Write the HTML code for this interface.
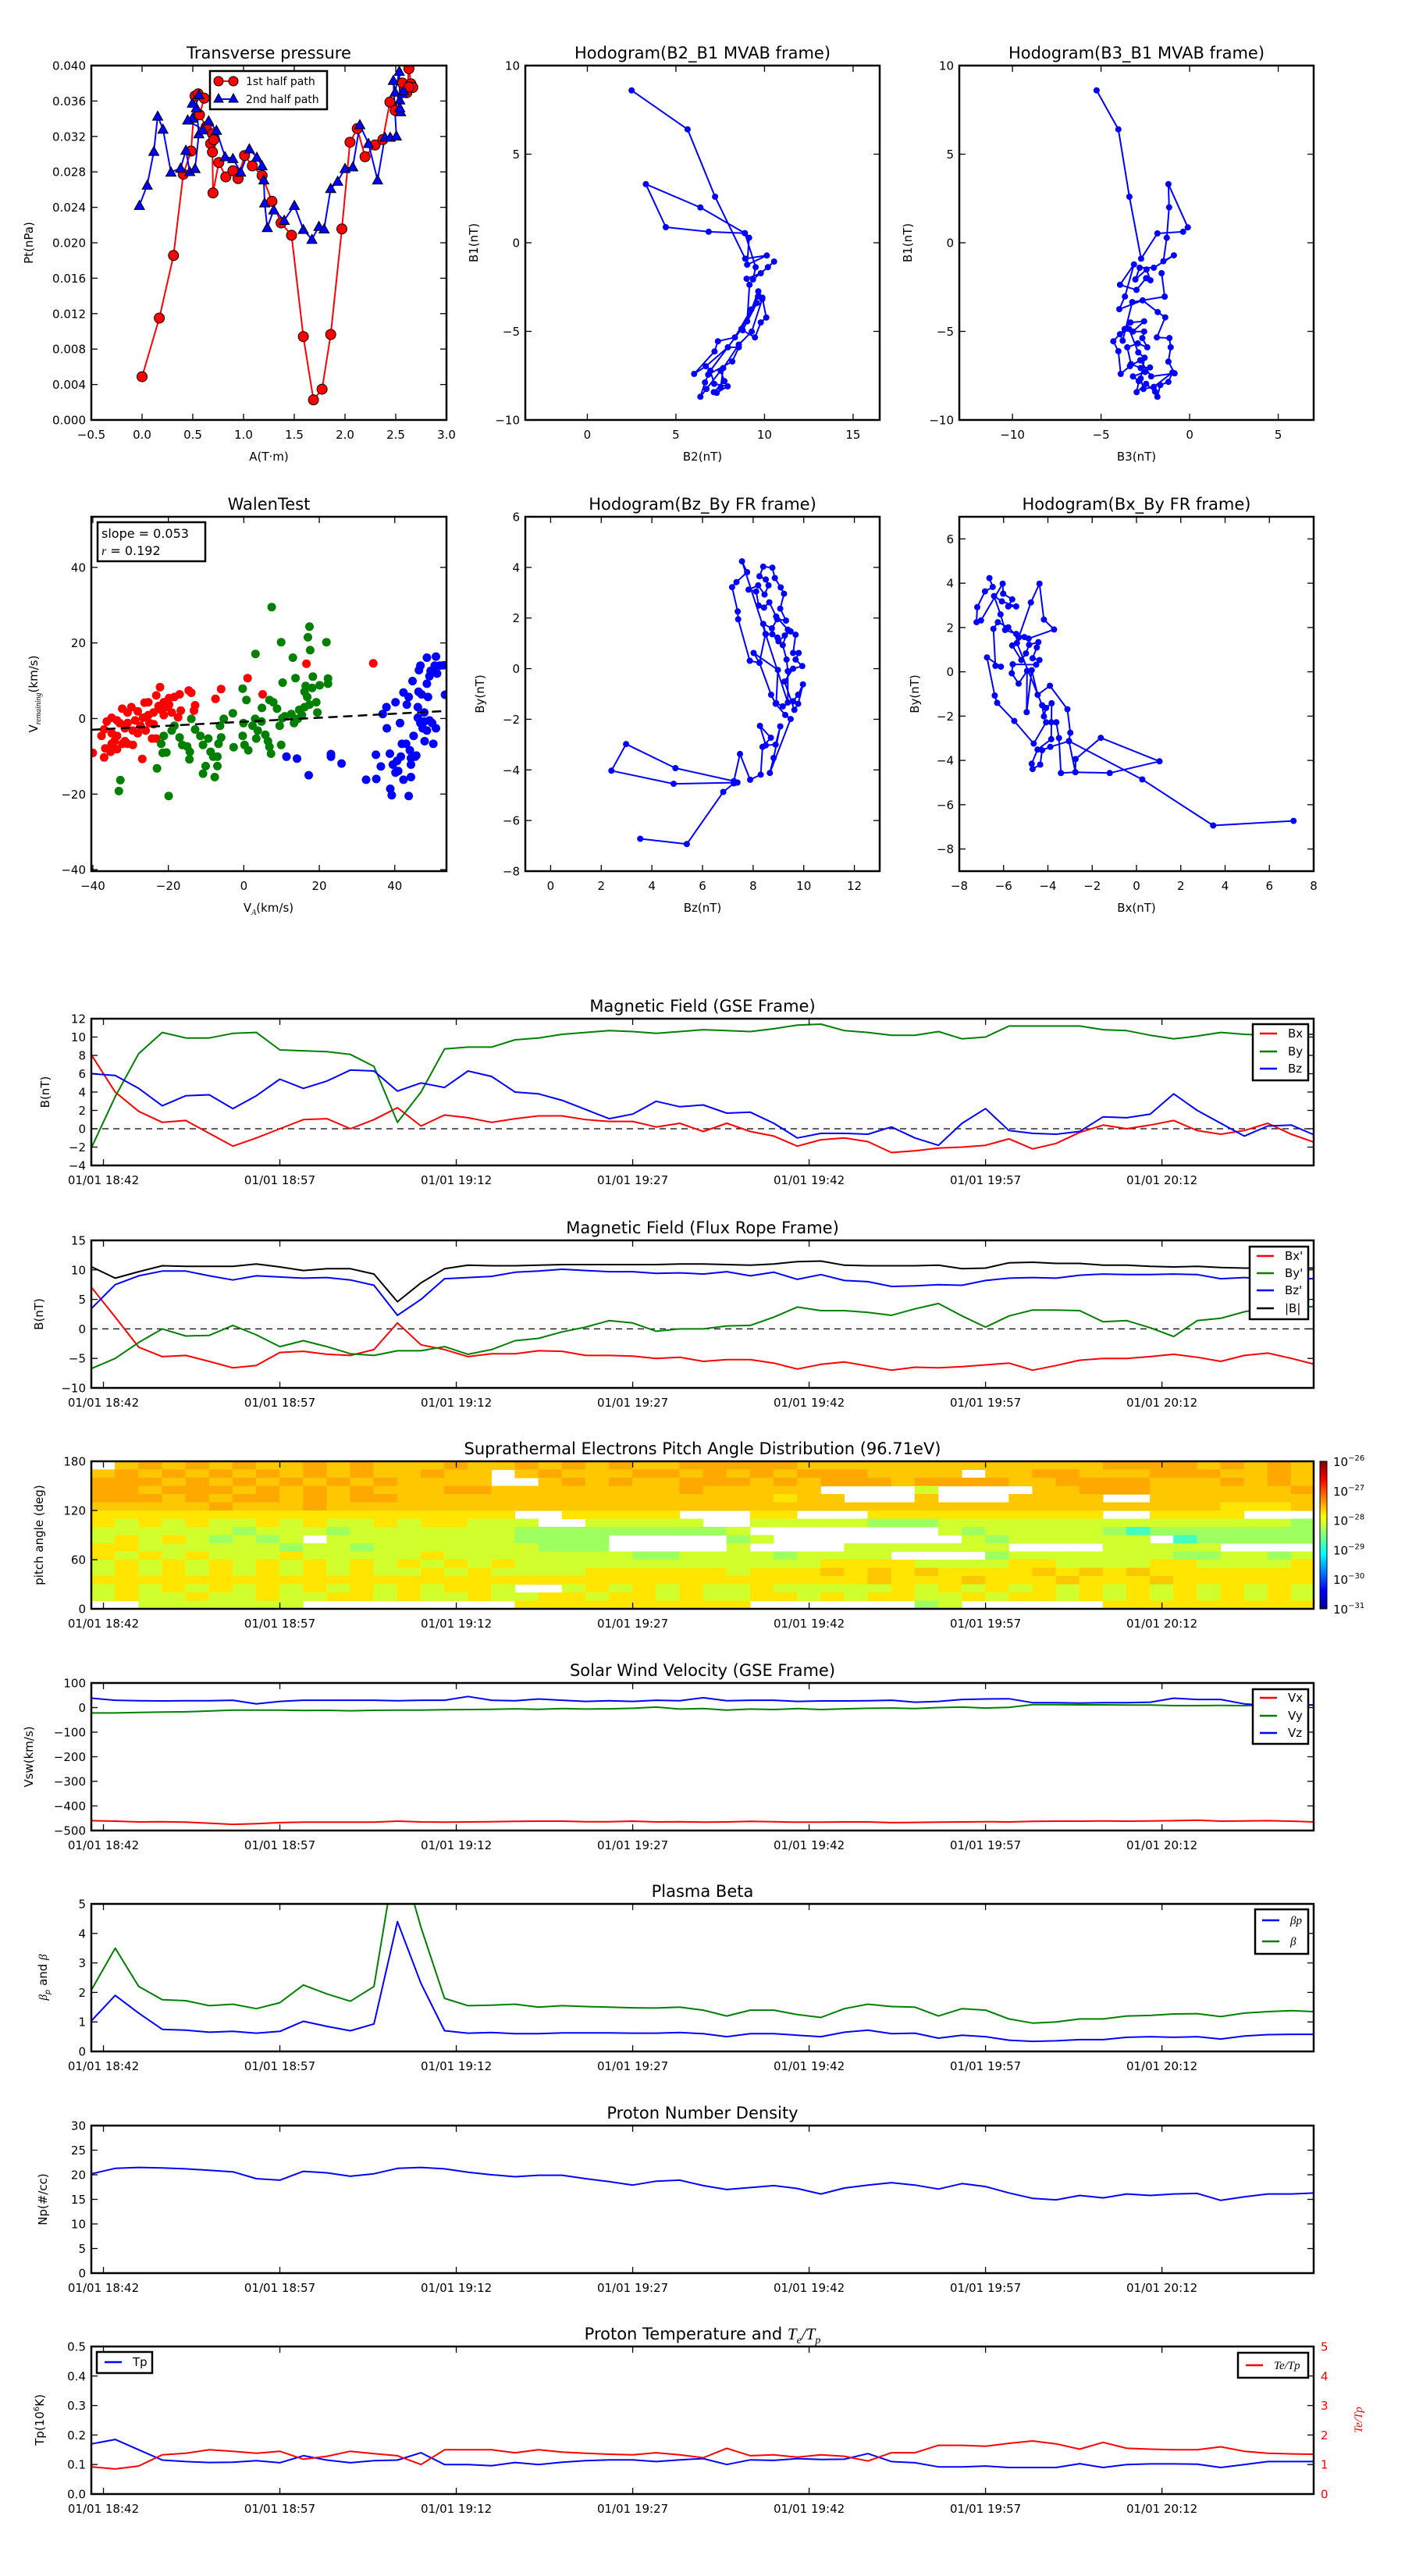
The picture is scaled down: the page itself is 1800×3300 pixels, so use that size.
<!DOCTYPE html>
<html><head><meta charset="utf-8"><title>Flux rope analysis</title>
<style>
html,body{margin:0;padding:0;background:#fff;}
svg{display:block;font-family:"DejaVu Sans","Liberation Sans",sans-serif;}
</style></head>
<body>
<svg id="fig" xmlns="http://www.w3.org/2000/svg" width="1800" height="3300" viewBox="0 0 1800 3300">
<defs>
<linearGradient id="jetgrad" x1="0" y1="1" x2="0" y2="0">
<stop offset="0" stop-color="#00008f"/><stop offset="0.125" stop-color="#0000ff"/><stop offset="0.375" stop-color="#00ffff"/><stop offset="0.625" stop-color="#ffff00"/><stop offset="0.875" stop-color="#ff0000"/><stop offset="1" stop-color="#800000"/>
</linearGradient>
</defs>
</svg>
<script>
// ---------- top-row data ----------
const presRedA=[0,0.17,0.31,0.406,0.483,0.522,0.553,0.612,0.566,0.632,0.694,0.676,0.707,0.694,0.699,0.756,0.825,0.895,0.946,1.01,1.087,1.183,1.28,1.37,1.473,1.589,1.689,1.774,1.859,1.969,2.049,2.121,2.198,2.296,2.373,2.442,2.494,2.566,2.609,2.63,2.65,2.668,2.63];
const presRedP=[0.00488,0.0115,0.01856,0.02774,0.03035,0.03656,0.0368,0.03632,0.03444,0.03309,0.0323,0.03118,0.03162,0.03024,0.02562,0.02906,0.02744,0.02812,0.02724,0.02985,0.02868,0.02759,0.02468,0.02224,0.02085,0.00941,0.00226,0.00347,0.00965,0.02156,0.03135,0.03288,0.02971,0.03103,0.03165,0.03588,0.03494,0.03803,0.03694,0.03965,0.03794,0.03753,0.03759];
const presBlueA=[-0.026,0.051,0.116,0.154,0.206,0.285,0.38,0.432,0.47,0.522,0.56,0.535,0.496,0.56,0.496,0.45,0.6,0.656,0.733,0.818,0.895,0.972,1.057,1.131,1.183,1.2,1.208,1.234,1.298,1.401,1.501,1.589,1.674,1.743,1.794,1.859,1.928,2.0,2.077,2.146,2.231,2.321,2.393,2.445,2.506,2.476,2.494,2.535,2.54,2.548,2.54,2.566,2.578];
const presBlueP=[0.02421,0.0265,0.03032,0.03429,0.03282,0.02797,0.02841,0.03044,0.02803,0.02838,0.0323,0.03524,0.03576,0.03671,0.03406,0.03385,0.03274,0.03376,0.03268,0.02971,0.0295,0.02797,0.03059,0.02965,0.02868,0.02709,0.0245,0.02171,0.02371,0.02253,0.02421,0.0215,0.02038,0.02185,0.02156,0.02612,0.02694,0.02838,0.02856,0.03332,0.03121,0.02709,0.03191,0.03191,0.03206,0.03832,0.037,0.03935,0.03612,0.03479,0.03524,0.03685,0.03715];
const presXTicks=[-0.5,0,0.5,1,1.5,2,2.5,3];
const presXLabels=["−0.5","0.0","0.5","1.0","1.5","2.0","2.5","3.0"];
const presYTicks=[0,0.004,0.008,0.012,0.016,0.02,0.024,0.028,0.032,0.036,0.04];
const presYLabels=["0.000","0.004","0.008","0.012","0.016","0.020","0.024","0.028","0.032","0.036","0.040"];

const h2x=[2.5,5.66,7.21,8.91,10.13,9.02,9.13,8.89,6.38,3.3,4.43,6.85,8.89,9.5,9.35,10.19,10.54,9.79,8.99,9.15,9.02,9.65,9.88,10.1,9.79,9.46,8.77,9.57,9.25,8.33,7.37,7.18,6.03,6.69,7.93,8.55,8.18,6.82,6.64,6.38,6.72,7.52,7.74,7.14,7.3,7.92,7.16,6.94,8.7,9.63,9.87,9.28,8.55,7.67,7.52];
const h2y=[8.6,6.4,2.6,-0.9,-0.72,-1.24,0.28,0.54,1.99,3.31,0.88,0.62,0.54,-1.38,-2.07,-1.38,-1.06,-1.72,-2.03,-2.37,-4.43,-2.74,-3.1,-4.22,-4.5,-5.34,-4.94,-3.4,-3.76,-5.34,-5.56,-6.13,-7.4,-6.97,-5.9,-5.9,-6.7,-7.44,-7.88,-8.69,-8.25,-7.22,-7.81,-8.43,-8.47,-8.1,-7.96,-7.22,-4.87,-3.03,-3.18,-5.01,-5.75,-7.07,-8.18];
const h3x=[-5.25,-4.02,-3.4,-2.74,-1.82,-0.37,-0.1,-1.2,-1.16,-1.29,-1.48,-0.89,-2.02,-2.82,-3.06,-2.43,-2.21,-2.46,-3.0,-3.93,-3.14,-3.65,-3.97,-2.65,-1.8,-1.38,-1.85,-1.14,-1.07,-1.2,-0.85,-2.17,-2.79,-3.37,-3.89,-4.02,-4.31,-3.67,-3.34,-2.57,-3.2,-2.57,-2.67,-2.39,-2.93,-3.52,-3.31,-2.76,-2.24,-2.51,-3.2,-2.87,-2.99,-2.46,-1.95,-1.82,-1.66,-1.2,-0.97,-2.02,-2.61,-2.76,-2.54,-2.9,-3.42,-3.93,-3.78,-3.24,-1.41,-1.58];
const h3y=[8.6,6.4,2.6,-0.9,0.53,0.62,0.87,3.31,2.0,0.28,-1.04,-0.71,-1.41,-1.41,-2.07,-1.51,-2.12,-2.0,-2.66,-2.37,-1.22,-3.03,-3.75,-3.25,-3.91,-4.21,-5.34,-5.38,-5.9,-6.71,-7.37,-7.54,-6.63,-6.96,-7.4,-6.12,-5.56,-4.87,-4.5,-4.43,-5.01,-5.01,-5.38,-5.9,-5.68,-5.9,-6.85,-7.07,-7.04,-7.29,-7.54,-7.81,-8.43,-7.96,-8.4,-8.69,-8.03,-7.85,-7.32,-8.13,-8.25,-7.66,-6.49,-6.19,-4.87,-5.16,-5.53,-3.35,-3.04,-1.72];

// ---------- second-row data ----------
const walenRedX=[-40,-37,-36.7,-35.3,-35,-33.6,-32.2,-30.8,-29.4,-26.9,-37,-36.3,-35,-33.6,-32.2,-30.8,-29.8,-28.1,-26.7,-25.3,-23.9,-22.6,-21.2,-19.8,-18.4,-17,-14.6,-13.9,-26.3,-23.2,-22.2,-25,-23.9,-24.3,-28.1,-29.4,-31.5,-33.6,-35,-32.9,-30.8,-28.8,-27.4,-26,-21.9,-20.5,-19.1,-17.4,-16.7,-13.2,-12.9,-20.5,-6,-7.5,1,5,16.6,34.3,-23.2,-25.3,-21.2,-19.8,-34.3,-31.5,-37.7];
const walenRedY=[-9.1,-10.3,-7.9,-8.8,-6.7,-8.1,-6.7,-6.7,-7,-10.7,-2.9,-0.8,0.2,-0.5,2.6,1.6,3,1.9,0.2,0.9,1.6,3.3,4.3,5.4,5.7,6.4,7.4,6.8,4.2,6.1,8.3,-1.2,-1.5,-5.3,-3.9,-3.2,-2.6,-4.6,-3.9,-1.2,-1.2,-0.5,-1.9,-3.2,2.3,3,1.6,0.3,2.1,2.1,3.5,4.3,7.8,5.2,10.7,6.4,14.5,14.6,-5.3,4.3,0.9,3.7,-6,-6,-4.6];
const walenGreenX=[-23,-32.7,-33.1,-19.9,-21.9,-21.5,-20.5,-21.2,-19.1,-18.4,-17,-16.3,-15,-14.3,-14.4,-13.9,-12.9,-11.5,-10.8,-10.8,-10.1,-9.4,-8.8,-8.1,-7.7,-7,-7,-6.7,-6,-6.3,-5.3,-2.9,-2.7,-0.3,0.7,-0.1,-0.3,0.2,1.2,2.3,3,3.3,3.7,4.7,4.8,5.7,6.4,6.8,7.2,6.8,7.8,8.8,9.5,9.9,10.2,10.9,12.6,13.3,10.3,13,13.7,9.9,7.4,3.1,17.4,17,17.6,21.9,18.3,16.4,18.1,20.1,22.3,22.3,16.1,16.8,17.4,19.2,19.5,16.1,14.7,14.3,15.4];
const walenGreenY=[-13.2,-16.3,-19.2,-20.5,-6.7,-9.1,-9,-4.6,-3.2,-1.9,-5,-7,-7.4,-8.8,-10.8,-0.1,-2.9,-4.6,-7,-14.6,-12.6,-5.3,-8.8,-10.1,-15.5,-12.6,-10.1,-6.7,-5,-1.9,-0.1,1.4,-7.6,7.9,4.9,-1.2,-4.6,-7,-8.4,-1.9,-0.1,-5.3,-3.2,-0.8,2.8,-4.3,-6,-7.5,-9.3,4.9,4.3,2.6,-1.9,-7,0.1,0.6,1.2,-1.2,9.5,16.1,10.7,20.2,29.5,17.1,24.3,21.5,18.1,20.2,11.1,8.6,8.1,8.8,10.6,9.2,7.1,5.7,3.7,4.3,1.6,3,2.3,-0.1,0.9];
const walenBlueX=[11.3,14.1,17.2,23.1,23.1,25.9,32.4,35,35.1,36.3,37.9,36.8,37.8,38.7,38.8,39.2,39.5,40.6,40.9,41.4,41.9,42.3,42.3,43.2,43.7,43.7,44,44.3,44.3,44.7,45,45.4,46.1,46.1,46.3,46.4,46.8,47.1,47.4,47.8,47.9,48.5,48.5,48.8,49.2,49.5,49.9,50.2,50.6,50.9,50.9,51.2,51.9,53,53.3,46.8,48.5,49.2,47.8,40.2,43,44.3,41.6,40.2,45.7];
const walenBlueY=[-10.1,-10.6,-15,-9.4,-10.1,-11.9,-16.2,-9.6,-16,-12.7,-2.6,1.2,3,-9.3,-18.6,-20.3,-12.2,-11.2,-13.9,-1.2,-6.7,-16.2,6.9,3.7,5.7,-20.5,-8.4,-15.5,-12.2,9.9,-4.6,-10.1,3,0.2,7.1,12.8,14,6.4,-2.6,1.6,-6,9.2,16.1,5.7,11.2,12.6,-1.2,-6.7,14,16.4,-2.6,11.9,14,14.1,6.3,-1.2,-3.2,-0.5,-0.8,4.3,-6.7,-10.5,-10.1,-14.3,-9.8];
const walenSlope=0.053, walenIntercept=-0.85;

const h4x=[3.54,5.38,6.82,7.24,7.38,4.86,2.4,2.98,4.93,7.24,7.48,7.88,8.3,8.37,8.7,8.27,8.5,8.89,9.07,8.81,8.66,9.48,9.27,8.89,8.71,8.25,8.02,8.98,8.91,9.17,9.58,9.78,9.97,9.78,9.63,9.24,9.58,9.94,9.68,9.8,9.58,9.68,9.48,9.25,9.0,8.96,8.76,8.5,8.4,8.74,8.95,9.3,9.07,9.22,9.09,8.86,8.76,8.4,8.25,8.5,8.61,8.45,8.2,7.82,8.12,8.22,8.43,8.64,8.91,9.37,9.17,9.32,9.37,9.37,7.56,7.76,7.34,7.17,7.39,7.41,7.87,8.25,8.49];
const h4y=[-6.72,-6.93,-4.87,-4.53,-4.5,-4.55,-4.03,-2.98,-3.93,-4.44,-3.37,-4.39,-4.19,-3.09,-2.73,-2.26,-3.03,-3.0,-2.28,-3.53,-4.12,-1.99,-1.83,-1.39,-1.03,0.23,0.62,-0.05,-1.36,-1.49,-1.29,-1.03,-0.62,-1.39,-1.63,-0.51,0,0.1,0.36,0.62,0.62,1.34,1.47,1.31,1.08,1.23,1.36,1.36,1.77,1.59,1.95,1.9,2.37,2.96,3.21,3.58,3.99,4.03,3.65,3.52,3.29,2.93,3.29,3.12,3.05,2.49,2.41,2.62,2.06,1.54,0.93,0.36,-0.1,-1.34,4.24,3.81,3.42,3.22,2.26,1.95,0.31,0.23,1.37];
const h5x=[-6.64,-6.49,-6.84,-7.19,-7.22,-7.02,-6.04,-6.02,-5.61,-5.79,-5.43,-6.08,-6.43,-6.14,-5.93,-5.43,-5.06,-4.87,-3.72,-4.18,-4.38,-4.77,-5.32,-5.79,-6.26,-6.46,-6.37,-6.12,-6.75,-6.4,-6.29,-5.52,-4.64,-4.08,-3.85,-3.62,-3.5,-3.41,-2.76,-2.75,-1.61,1.04,-1.21,-2.76,-3.05,-2.99,-3.12,-3.91,-4.46,-4.73,-4.96,-4.94,-5.32,-5.63,-5.59,-4.53,-4.38,-4.69,-4.5,-4.43,-4.85,-4.99,-5.2,-5.61,-5.4,-4.26,-4.18,-4.08,-3.83,-3.85,-4.47,-4.73,-4.69,-4.35,-4.26,-3.89,-3.05,0.26,3.46,7.09];
const h5y=[4.23,3.83,3.63,2.92,2.24,2.32,3.98,3.53,3.27,2.95,2.95,3.18,3.42,2.59,1.89,1.71,1.57,1.5,1.91,2.36,3.98,3.13,1.54,2.01,2.24,1.94,0.27,0.23,0.65,-1.07,-1.4,-2.22,-3.24,-2.28,-2.28,-2.28,-2.99,-4.57,-4.53,-3.94,-2.98,-4.04,-4.57,-4.53,-3.13,-2.75,-1.69,-0.63,-1.04,0.07,-1.82,0.04,-0.53,-0.07,0.34,0.32,0.53,0.61,1.1,1.34,1.22,0.83,0.53,1.19,1.3,-1.51,-2.01,-1.63,-1.42,-3.04,-3.51,-4.15,-4.39,-4.19,-3.54,-3.39,-3.13,-4.86,-6.94,-6.73];

// ---------- time series data (minutes after 18:42, 2-min cadence) ----------
const seriesTimes=[-1,1,3,5,7,9,11,13,15,17,19,21,23,25,27,29,31,33,35,37,39,41,43,45,47,49,51,53,55,57,59,61,63,65,67,69,71,73,75,77,79,81,83,85,87,89,91,93,95,97,99,101,103];
const timeTickMinutes=[0,15,30,45,60,75,90];
const timeTickLabels=["01/01 18:42","01/01 18:57","01/01 19:12","01/01 19:27","01/01 19:42","01/01 19:57","01/01 20:12"];
const gseBx=[8,4,1.9,0.7,0.9,-0.5,-1.9,-1,0,1,1.1,0,1,2.3,0.3,1.5,1.2,0.7,1.1,1.4,1.4,1,0.8,0.8,0.2,0.6,-0.3,0.6,-0.3,-0.8,-1.9,-1.2,-1,-1.4,-2.6,-2.4,-2.1,-2,-1.8,-1.1,-2.2,-1.6,-0.4,0.4,0,0.4,0.9,-0.2,-0.6,-0.2,0.6,-0.6,-1.5];
const gseBy=[-2,3.5,8.2,10.5,9.9,9.9,10.4,10.5,8.6,8.5,8.4,8.1,6.8,0.7,4,8.7,8.9,8.9,9.7,9.9,10.3,10.5,10.7,10.6,10.4,10.6,10.8,10.7,10.6,10.9,11.3,11.4,10.7,10.5,10.2,10.2,10.6,9.8,10,11.2,11.2,11.2,11.2,10.8,10.7,10.2,9.8,10.1,10.5,10.3,10.2,10.3,10.3];
const gseBz=[6,5.8,4.4,2.5,3.6,3.7,2.2,3.6,5.4,4.4,5.2,6.4,6.3,4.1,5,4.5,6.3,5.7,4,3.8,3.1,2.1,1.1,1.6,3,2.4,2.6,1.7,1.8,0.6,-1,-0.5,-0.5,-0.6,0.2,-1,-1.8,0.6,2.2,-0.2,-0.5,-0.6,-0.3,1.3,1.2,1.6,3.8,2,0.6,-0.8,0.3,0.4,-0.7];
const frBx=[7,2,-3.1,-4.7,-4.5,-5.5,-6.6,-6.2,-4,-3.8,-4.3,-4.5,-3.5,1,-2.7,-3.5,-4.7,-4.2,-4.2,-3.7,-3.8,-4.5,-4.5,-4.6,-5,-4.8,-5.5,-5.2,-5.2,-5.8,-6.8,-6,-5.6,-6.3,-7,-6.5,-6.6,-6.4,-6.1,-5.8,-7,-6.2,-5.3,-5,-5,-4.7,-4.3,-4.8,-5.5,-4.5,-4.1,-5,-6];
const frBy=[-6.7,-5,-2.3,0,-1.2,-1.1,0.6,-1,-3,-2,-3,-4.2,-4.5,-3.7,-3.7,-3,-4.3,-3.5,-2,-1.6,-0.5,0.3,1.4,1,-0.4,0,0,0.5,0.6,2,3.7,3.1,3.1,2.8,2.3,3.4,4.3,2.2,0.3,2.2,3.2,3.2,3.1,1.2,1.4,0.2,-1.3,1.4,1.8,2.9,3.6,3.6,3.8];
const frBz=[3.5,7.5,9,9.8,9.8,9,8.3,9,8.8,8.6,8.7,8.3,7.4,2.3,5,8.5,8.7,8.9,9.6,9.8,10.1,9.9,9.7,9.7,9.4,9.5,9.3,9.7,9,9.6,8.4,9.2,8.2,8,7.2,7.3,7.5,7.4,8.2,8.6,8.7,8.6,9.1,9.3,9.2,9.2,9.3,9.2,8.5,8.7,8.5,8.5,8.5];
const frBt=[10.5,8.6,9.7,10.7,10.6,10.6,10.6,11,10.5,9.9,10.2,10.2,9.3,4.6,7.8,10.2,10.8,10.7,10.7,10.8,10.9,10.9,10.9,10.9,10.9,11,11,10.9,10.8,11,11.4,11.5,10.8,10.7,10.7,10.7,10.8,10.2,10.3,11.2,11.3,11.1,11.1,10.8,10.8,10.6,10.5,10.6,10.4,10.3,10.3,10.3,10.3];
const velVx=[-460,-462,-465,-464,-466,-470,-475,-472,-468,-466,-466,-466,-466,-462,-465,-466,-465,-464,-463,-462,-462,-464,-464,-462,-465,-464,-466,-465,-463,-464,-466,-466,-465,-465,-468,-467,-466,-465,-464,-465,-463,-462,-462,-461,-462,-461,-460,-458,-462,-461,-460,-462,-465];
const velVy=[-22,-22,-20,-18,-17,-14,-10,-10,-10,-12,-11,-13,-11,-10,-10,-9,-8,-7,-5,-7,-4,-6,-5,-3,2,-6,-4,-10,-6,-8,-4,-8,-5,-3,-2,-4,0,2,-2,1,12,12,11,11,10,10,8,8,9,8,10,12,10];
const velVz=[38,30,28,27,28,28,30,15,25,30,30,30,30,28,30,30,45,30,28,35,30,25,28,25,30,28,40,28,30,30,25,27,27,28,30,22,25,33,35,36,20,20,18,20,20,22,38,33,33,15,8,12,10];
const betaP=[1.05,1.9,1.3,0.75,0.72,0.65,0.68,0.62,0.68,1.02,0.85,0.7,0.93,4.4,2.3,0.7,0.62,0.64,0.6,0.6,0.63,0.63,0.63,0.62,0.62,0.64,0.6,0.5,0.6,0.6,0.55,0.5,0.65,0.72,0.6,0.62,0.45,0.55,0.5,0.38,0.34,0.36,0.4,0.4,0.48,0.5,0.48,0.5,0.42,0.52,0.57,0.58,0.58];
const betaTotal=[2.1,3.5,2.2,1.75,1.72,1.55,1.6,1.45,1.65,2.25,1.95,1.7,2.2,7,4.2,1.8,1.55,1.57,1.6,1.5,1.55,1.52,1.5,1.48,1.47,1.5,1.4,1.2,1.4,1.4,1.25,1.15,1.45,1.6,1.52,1.5,1.2,1.45,1.4,1.1,0.96,1.0,1.1,1.1,1.2,1.22,1.27,1.28,1.18,1.3,1.35,1.38,1.35];
const densityNp=[20.2,21.3,21.5,21.4,21.2,20.9,20.6,19.2,18.9,20.7,20.4,19.7,20.2,21.3,21.5,21.2,20.5,20,19.6,19.9,19.9,19.2,18.6,17.9,18.7,18.9,17.8,17,17.4,17.8,17.2,16.1,17.3,17.9,18.4,17.9,17.1,18.2,17.6,16.3,15.2,14.9,15.8,15.3,16.1,15.8,16.1,16.2,14.8,15.5,16.1,16.1,16.3];
const tempTp=[0.17,0.185,0.15,0.115,0.11,0.107,0.108,0.113,0.106,0.13,0.115,0.106,0.113,0.115,0.14,0.1,0.1,0.096,0.107,0.1,0.108,0.113,0.116,0.116,0.11,0.116,0.12,0.1,0.116,0.114,0.12,0.117,0.118,0.137,0.11,0.106,0.092,0.092,0.095,0.09,0.09,0.09,0.103,0.09,0.1,0.102,0.102,0.101,0.09,0.1,0.11,0.11,0.11];
const tempRatio=[0.92,0.85,0.95,1.33,1.38,1.5,1.45,1.38,1.45,1.18,1.28,1.45,1.37,1.3,1.0,1.5,1.5,1.5,1.4,1.5,1.42,1.38,1.35,1.33,1.4,1.33,1.23,1.55,1.3,1.33,1.25,1.33,1.28,1.12,1.4,1.4,1.65,1.65,1.62,1.72,1.8,1.7,1.52,1.75,1.55,1.52,1.5,1.5,1.6,1.45,1.38,1.36,1.35];

// ---------- pitch angle distribution (codes -> log10 flux) ----------
const padAngleBins=[170,160,150,140,130,120,110,100,90,80,70,60,50,40,30,20,10,0];
const padCodeExponent=[null,-28.8,-28.35,-28.1,-27.75,-27.6,-27.45];
const padRows=[
"0565656556565556556565655666665555555555555666656565",
"5656565656565565505655566565656665555055665556665565",
"6665656565656555500565655666565666566665566665556565",
"6656665656565556655555555655555000030000556665555556",
"6665656656566555555555555555545500050005555005555555",
"5555565556555555555555555555555555555555555555554445",
"4444444444444444440044444000440004444444444004444000",
"4343433434334344333003333300333332223333333333333332",
"3333332333233333332222222223000000003233333212222222",
"3434323230333333332222000002300000000323333330122222",
"4433333323323333333222000003000033333330000333330000",
"4343433343333343333333322333323333000023333333223323",
"3434343434343434343333333333333444433334433334433334",
"3434343434343343433334444443444545454444545454444444",
"4444444444444444444444444444444445444544454445444444",
"3434343434343434430034343433433333434343434343434343",
"3433433433443433433443443433443434433434434343434343",
"0033333330000000004444444444000000023000000444444444"];
const padColMinutes=2;
const cbarExponents=[-26,-27,-28,-29,-30,-31];

// ================== drawing ==================
const NS="http://www.w3.org/2000/svg";
const svg=document.getElementById('fig');
function mk(tag,attrs,parent){const e=document.createElementNS(NS,tag);for(const k in attrs)e.setAttribute(k,attrs[k]);(parent||svg).appendChild(e);return e;}
function lin(d0,d1,r0,r1){return v=>r0+(v-d0)/(d1-d0)*(r1-r0);}

function txt(x,y,s,size,anchor,parent,extra){
  const t=mk('text',Object.assign({x:x,y:y,'font-size':size,'text-anchor':anchor||'middle',fill:'#000'},extra||{}),parent);
  t.textContent=s;return t;
}

function axes(p){
  const g=mk('g',{});
  
  
  p.g=g;
  p.sx=lin(p.xmin,p.xmax,p.x0,p.x1);
  p.sy=lin(p.ymin,p.ymax,p.y1,p.y0);
  const cid='clip-'+p.name;
  const cp=mk('clipPath',{id:cid},g);
  mk('rect',{x:p.x0,y:p.y0,width:p.x1-p.x0,height:p.y1-p.y0},cp);
  p.plot=mk('g',{'clip-path':'url(#'+cid+')'},g);
  
  
  // ticks
  const tk=mk('g',{stroke:'#000','stroke-width':1.3},g);
  
  
  p.xticks.forEach((v,i)=>{const x=p.sx(v);
    mk('line',{x1:x,x2:x,y1:p.y1,y2:p.y1-8},tk);mk('line',{x1:x,x2:x,y1:p.y0,y2:p.y0+8},tk);
    const t=txt(x,p.y1+24,p.xlabels[i],15,'middle',g);
    
    });
  p.yticks.forEach((v,i)=>{const y=p.sy(v);
    mk('line',{x1:p.x0,x2:p.x0+8,y1:y,y2:y},tk);
    if(!p.noRightTicks)mk('line',{x1:p.x1,x2:p.x1-8,y1:y,y2:y},tk);
    const t=txt(p.x0-7,y+5.5,p.ylabels[i],15,'end',g);
    
    });
  return p;
}
function frame(p){
  const r=mk('rect',{x:p.x0,y:p.y0,width:p.x1-p.x0,height:p.y1-p.y0,fill:'none',stroke:'#000','stroke-width':2.5},p.g);
  
  
}
function title(p,s,cx){
  const t=txt(cx!==undefined?cx:(p.x0+p.x1)/2,p.y0-9,s,21,'middle',p.g);
  
  
  return t;
}
function xlabel(p,s,y){const t=txt((p.x0+p.x1)/2,y,s,15,'middle',p.g);
  
  return t;}
function ylabel(p,s,x){const cy=(p.y0+p.y1)/2;const t=txt(x,cy,s,15,'middle',p.g,{transform:'rotate(-90 '+x+' '+cy+')'});
  
  return t;}
function poly(p,xs,ys,color,w,name){
  const pts=xs.map((x,i)=>p.sx(x).toFixed(1)+','+p.sy(ys[i]).toFixed(1)).join(' ');
  const l=mk('polyline',{points:pts,fill:'none',stroke:color,'stroke-width':w||2,'stroke-linejoin':'round'},p.plot);
  
  
  return l;
}
function dots(p,xs,ys,color,r,name,stroke){
  const g=mk('g',{fill:color},p.plot);
  
  
  xs.forEach((x,i)=>{const c=mk('circle',{cx:p.sx(x).toFixed(1),cy:p.sy(ys[i]).toFixed(1),r:r},g);
    if(stroke){c.setAttribute('stroke',stroke);c.setAttribute('stroke-width',1);}
    
    });
}
function tris(p,xs,ys,color,s,name){
  const g=mk('g',{fill:color,stroke:'#000','stroke-width':1},p.plot);
  
  
  xs.forEach((x,i)=>{const cx=p.sx(x),cy=p.sy(ys[i]);
    const t=mk('polygon',{points:`${cx},${cy-s} ${cx-s},${cy+s*0.8} ${cx+s},${cy+s*0.8}`},g);
    
    });
}
function legendBox(p,x,y,w,h,name){
  const g=mk('g',{},p.g);
  
  
  mk('rect',{x:x,y:y,width:w,height:h,fill:'#fff',stroke:'#000','stroke-width':2.5},g);
  return g;
}
function legendEntry(g,x,y,color,label,name,italic){
  const l=mk('line',{x1:x,x2:x+22,y1:y,y2:y,stroke:color,'stroke-width':2.5},g);
  
  
  const t=txt(x+36,y+5,label,15,'start',g,italic?{'font-style':'italic','font-family':'"Liberation Serif",serif'}:{});
  
  
}
function range(a,b,s){const r=[];for(let v=a;v<=b+1e-9;v+=s)r.push(+v.toFixed(6));return r;}
function labels(arr,dec){return arr.map(v=>(v<0?'−':'')+Math.abs(v).toFixed(dec));}

// ---- Transverse pressure
const P=axes({name:'transverse-pressure',x0:117,x1:572,y0:84,y1:538,xmin:-0.5,xmax:3,ymin:0,ymax:0.04,xticks:presXTicks,xlabels:presXLabels,yticks:presYTicks,ylabels:presYLabels});
poly(P,presRedA,presRedP,'#ff0000',2,'first-half-path-line');
poly(P,presBlueA,presBlueP,'#0000ff',2,'second-half-path-line');
dots(P,presRedA,presRedP,'#ff0000',6.5,'first-half-path-markers','#000');
tris(P,presBlueA,presBlueP,'#0000ff',6.5,'second-half-path-markers');
frame(P);title(P,'Transverse pressure');xlabel(P,'A(T·m)',590);ylabel(P,'Pt(nPa)',42);
{const lg=legendBox(P,269,91,150,49,'pressure-legend');
 mk('line',{x1:280,x2:299,y1:104,y2:104,stroke:'#f00','stroke-width':2},lg);
 mk('circle',{cx:280,cy:104,r:6,fill:'#f00',stroke:'#000'},lg);mk('circle',{cx:299,cy:104,r:6,fill:'#f00',stroke:'#000'},lg);
 mk('line',{x1:280,x2:299,y1:127,y2:127,stroke:'#00f','stroke-width':2},lg);
 mk('polygon',{points:'280,120 274,131 286,131',fill:'#00f',stroke:'#000'},lg);mk('polygon',{points:'299,120 293,131 305,131',fill:'#00f',stroke:'#000'},lg);
 let t=txt(315,109,'1st half path',14,'start',lg);
 
 
 t=txt(315,132,'2nd half path',14,'start',lg);
 
 }

// ---- Hodogram B2_B1
const H2=axes({name:'hodogram-b2-b1',x0:673,x1:1127,y0:84,y1:538,xmin:-3.5,xmax:16.5,ymin:-10,ymax:10,xticks:[0,5,10,15],xlabels:['0','5','10','15'],yticks:[-10,-5,0,5,10],ylabels:labels([-10,-5,0,5,10],0)});
poly(H2,h2x,h2y,'#0000ff',2,'hodogram-b2-b1-path');dots(H2,h2x,h2y,'#0000ff',4,'hodogram-b2-b1-points');
frame(H2);title(H2,'Hodogram(B2_B1 MVAB frame)');xlabel(H2,'B2(nT)',590);ylabel(H2,'B1(nT)',612);
// ---- Hodogram B3_B1
const H3=axes({name:'hodogram-b3-b1',x0:1229,x1:1683,y0:84,y1:538,xmin:-13,xmax:7,ymin:-10,ymax:10,xticks:[-10,-5,0,5],xlabels:labels([-10,-5,0,5],0),yticks:[-10,-5,0,5,10],ylabels:labels([-10,-5,0,5,10],0)});
poly(H3,h3x,h3y,'#0000ff',2,'hodogram-b3-b1-path');dots(H3,h3x,h3y,'#0000ff',4,'hodogram-b3-b1-points');
frame(H3);title(H3,'Hodogram(B3_B1 MVAB frame)');xlabel(H3,'B3(nT)',590);ylabel(H3,'B1(nT)',1168);

// ---- Walen test
const W=axes({name:'walen-test',x0:117,x1:572,y0:662,y1:1116,xmin:-40.4,xmax:53.7,ymin:-40.4,ymax:53.4,xticks:[-40,-20,0,20,40],xlabels:labels([-40,-20,0,20,40],0),yticks:[-40,-20,0,20,40],ylabels:labels([-40,-20,0,20,40],0)});
dots(W,walenRedX,walenRedY,'#ff0000',5.5,'walen-red-points');
dots(W,walenGreenX,walenGreenY,'#008000',5.5,'walen-green-points');
dots(W,walenBlueX,walenBlueY,'#0000ff',5.5,'walen-blue-points');
{const xa=W.xmin,xb=W.xmax;const l=mk('line',{x1:W.sx(xa),y1:W.sy(walenSlope*xa+walenIntercept),x2:W.sx(xb),y2:W.sy(walenSlope*xb+walenIntercept),stroke:'#000','stroke-width':2.5,'stroke-dasharray':'12,7'},W.plot);
 
 }
frame(W);title(W,'WalenTest');xlabel(W,'',1166);
{const t=mk('text',{x:344,y:1168,'font-size':15,'text-anchor':'middle'},W.g);t.innerHTML='V<tspan font-size="10" dy="4" font-style="italic" font-family="Liberation Serif,serif">A</tspan><tspan dy="-4">(km/s)</tspan>';
 
 }
{const cy=889;const t=mk('text',{x:48,y:cy,'font-size':15,'text-anchor':'middle',transform:'rotate(-90 48 '+cy+')'},W.g);t.innerHTML='V<tspan font-size="10" dy="4" font-style="italic" font-family="Liberation Serif,serif">remaining</tspan><tspan dy="-4">(km/s)</tspan>';
 
 }
{const g=legendBox(W,125,669,138,50,'walen-stats-box');
 let t=txt(130,689,'slope = 0.053',16,'start',g);
 
 
 t=mk('text',{x:130,y:711,'font-size':16},g);t.innerHTML='<tspan font-style="italic" font-family="Liberation Serif,serif">r</tspan> = 0.192';
 
 }

// ---- Hodogram Bz_By
const H4=axes({name:'hodogram-bz-by',x0:673,x1:1127,y0:662,y1:1116,xmin:-1,xmax:13,ymin:-8,ymax:6,xticks:[0,2,4,6,8,10,12],xlabels:['0','2','4','6','8','10','12'],yticks:[-8,-6,-4,-2,0,2,4,6],ylabels:labels([-8,-6,-4,-2,0,2,4,6],0)});
poly(H4,h4x,h4y,'#0000ff',2,'hodogram-bz-by-path');dots(H4,h4x,h4y,'#0000ff',4,'hodogram-bz-by-points');
frame(H4);title(H4,'Hodogram(Bz_By FR frame)');xlabel(H4,'Bz(nT)',1168);ylabel(H4,'By(nT)',620);
// ---- Hodogram Bx_By
const H5=axes({name:'hodogram-bx-by',x0:1229,x1:1683,y0:662,y1:1116,xmin:-8,xmax:8,ymin:-9,ymax:7,xticks:[-8,-6,-4,-2,0,2,4,6,8],xlabels:labels([-8,-6,-4,-2,0,2,4,6,8],0),yticks:[-8,-6,-4,-2,0,2,4,6],ylabels:labels([-8,-6,-4,-2,0,2,4,6],0)});
poly(H5,h5x,h5y,'#0000ff',2,'hodogram-bx-by-path');dots(H5,h5x,h5y,'#0000ff',4,'hodogram-bx-by-points');
frame(H5);title(H5,'Hodogram(Bx_By FR frame)');xlabel(H5,'Bx(nT)',1168);ylabel(H5,'By(nT)',1177);

// ---- time series panels
const TMIN=-1.03,TMAX=102.9;
function tpanel(name,y0,y1,ymin,ymax,yt,yl,opts){
  return axes(Object.assign({name:name,x0:117,x1:1683,y0:y0,y1:y1,xmin:TMIN,xmax:TMAX,ymin:ymin,ymax:ymax,xticks:timeTickMinutes,xlabels:timeTickLabels,yticks:yt,ylabels:yl},opts||{}));
}
function zeroLine(p,name){const l=mk('line',{x1:p.x0,x2:p.x1,y1:p.sy(0),y2:p.sy(0),stroke:'#000','stroke-width':1.3,'stroke-dasharray':'8,6'},p.plot);
  
  }

// GSE
const G=tpanel('mag-gse',1305,1493,-4,12,range(-4,12,2),labels(range(-4,12,2),0));
zeroLine(G,'mag-gse-zero-line');
poly(G,seriesTimes,gseBx,'#ff0000',2,'mag-gse-bx-line');
poly(G,seriesTimes,gseBy,'#008000',2,'mag-gse-by-line');
poly(G,seriesTimes,gseBz,'#0000ff',2,'mag-gse-bz-line');
frame(G);title(G,'Magnetic Field (GSE Frame)');ylabel(G,'B(nT)',63);
{const lg=legendBox(G,1605,1312,71,72,'mag-gse-legend');
 legendEntry(lg,1614,1324,'#ff0000','Bx','legend-bx');legendEntry(lg,1614,1347,'#008000','By','legend-by');legendEntry(lg,1614,1369,'#0000ff','Bz','legend-bz');}

// FR
const F=tpanel('mag-fr',1589,1778,-10,15,range(-10,15,5),labels(range(-10,15,5),0));
zeroLine(F,'mag-fr-zero-line');
poly(F,seriesTimes,frBx,'#ff0000',2,'mag-fr-bx-line');
poly(F,seriesTimes,frBy,'#008000',2,'mag-fr-by-line');
poly(F,seriesTimes,frBz,'#0000ff',2,'mag-fr-bz-line');
poly(F,seriesTimes,frBt,'#000000',2,'mag-fr-btotal-line');
frame(F);title(F,'Magnetic Field (Flux Rope Frame)');ylabel(F,'B(nT)',55);
{const lg=legendBox(F,1601,1597,75,93,'mag-fr-legend');
 legendEntry(lg,1610,1609,'#ff0000',"Bx'",'legend-bx-prime');legendEntry(lg,1610,1631,'#008000',"By'",'legend-by-prime');
 legendEntry(lg,1610,1653,'#0000ff',"Bz'",'legend-bz-prime');legendEntry(lg,1610,1676,'#000000','|B|','legend-btotal');}

// PAD
function jet(v){const c=x=>Math.max(0,Math.min(1,x));const r=c(1.5-Math.abs(4*v-3)),g=c(1.5-Math.abs(4*v-2)),b=c(1.5-Math.abs(4*v-1));
  return 'rgb('+Math.round(r*255)+','+Math.round(g*255)+','+Math.round(b*255)+')';}
const D=tpanel('pitch-angle',1872,2061,0,180,[0,60,120,180],['0','60','120','180'],{noRightTicks:true});
{const cells=mk('g',{},D.plot);
 
 
 padRows.forEach((row,ri)=>{const a0=padAngleBins[ri];
   for(let c=0;c<row.length;c++){const code=+row[c];if(!code)continue;
     const e=padCodeExponent[code];const t0=TMIN+c*padColMinutes;
     const x=D.sx(t0),x2=D.sx(t0+padColMinutes),y=D.sy(a0+10),y2=D.sy(a0);
     const r=mk('rect',{x:x.toFixed(1),y:y.toFixed(1),width:(x2-x+0.6).toFixed(1),height:(y2-y+0.6).toFixed(1),fill:jet((e+31)/5)},cells);
     
     }});}
frame(D);title(D,'Suprathermal Electrons Pitch Angle Distribution (96.71eV)');ylabel(D,'pitch angle (deg)',55);
{const cb=mk('g',{},D.g);
 
 
 mk('rect',{x:1691,y:1872,width:9,height:189,fill:'url(#jetgrad)',stroke:'#000','stroke-width':1},cb);
 const cs=lin(-31,-26,2061,1872);
 cbarExponents.forEach(e=>{const y=cs(e);const t=mk('text',{x:1708,y:y+6,'font-size':15},cb);t.innerHTML='10<tspan dy="-7" font-size="10">'+(e<0?'−':'')+Math.abs(e)+'</tspan>';
   
   });}

// Velocity
const V=tpanel('solar-wind-velocity',2156,2345,-500,100,range(-500,100,100),labels(range(-500,100,100),0));
poly(V,seriesTimes,velVx,'#ff0000',2,'velocity-vx-line');
poly(V,seriesTimes,velVy,'#008000',2,'velocity-vy-line');
poly(V,seriesTimes,velVz,'#0000ff',2,'velocity-vz-line');
frame(V);title(V,'Solar Wind Velocity (GSE Frame)');ylabel(V,'Vsw(km/s)',42);
{const lg=legendBox(V,1605,2164,71,70,'velocity-legend');
 legendEntry(lg,1614,2175,'#ff0000','Vx','legend-vx');legendEntry(lg,1614,2198,'#008000','Vy','legend-vy');legendEntry(lg,1614,2220,'#0000ff','Vz','legend-vz');}

// Beta
const B=tpanel('plasma-beta',2439,2628,0,5,range(0,5,1),labels(range(0,5,1),0));
poly(B,seriesTimes,betaTotal,'#008000',2,'beta-total-line');
poly(B,seriesTimes,betaP,'#0000ff',2,'beta-proton-line');
frame(B);title(B,'Plasma Beta');
{const cy=2533;const t=mk('text',{x:60,y:cy,'font-size':15,'text-anchor':'middle',transform:'rotate(-90 60 '+cy+')'},B.g);
 t.innerHTML='<tspan font-style="italic" font-family="Liberation Serif,serif">β</tspan><tspan font-size="10" dy="4" font-style="italic">p</tspan><tspan dy="-4"> and </tspan><tspan font-style="italic" font-family="Liberation Serif,serif">β</tspan>';
 
 }
{const lg=legendBox(B,1608,2446,68,57,'beta-legend');
 legendEntry(lg,1617,2460,'#0000ff','βp','legend-beta-p',true);legendEntry(lg,1617,2487,'#008000','β','legend-beta',true);}

// Density
const N=tpanel('proton-density',2723,2912,0,30,range(0,30,5),labels(range(0,30,5),0));
poly(N,seriesTimes,densityNp,'#0000ff',2,'density-line');
frame(N);title(N,'Proton Number Density');ylabel(N,'Np(#/cc)',60);

// Temperature
const T=tpanel('proton-temperature',3006,3195,0,0.5,range(0,0.5,0.1),labels(range(0,0.5,0.1),1),{noRightTicks:true});
const Tr={x0:117,x1:1683,sx:T.sx,sy:lin(0,5,3195,3006),plot:T.plot};
poly(T,seriesTimes,tempTp,'#0000ff',2,'temperature-tp-line');
poly(Tr,seriesTimes,tempRatio,'#ff0000',2,'temperature-ratio-line');
range(0,5,1).forEach(v=>{const y=Tr.sy(v);mk('line',{x1:1683,x2:1675,y1:y,y2:y,stroke:'#000','stroke-width':1.3},T.g);
  const t=txt(1692,y+5.5,String(v),15,'start',T.g,{fill:'#ff0000'});
  
  });
frame(T);
{const t=mk('text',{x:900,y:2997,'font-size':21,'text-anchor':'middle'},T.g);
 t.innerHTML='Proton Temperature and <tspan font-style="italic" font-family="Liberation Serif,serif">T<tspan font-size="14" dy="5">e</tspan><tspan dy="-5">/T</tspan><tspan font-size="14" dy="5">p</tspan></tspan>';
 
 }
{const cy=3100;const t=mk('text',{x:56,y:cy,'font-size':15,'text-anchor':'middle',transform:'rotate(-90 56 '+cy+')'},T.g);
 t.innerHTML='Tp(10<tspan font-size="10" dy="-6">6</tspan><tspan dy="6">K)</tspan>';
 
 }
{const cy=3100;const t=mk('text',{x:1745,y:cy,'font-size':15,'text-anchor':'middle',fill:'#ff0000','font-style':'italic','font-family':'Liberation Serif,serif',transform:'rotate(-90 1745 '+cy+')'},T.g);
 t.textContent='Te/Tp';
 
 }
{const lg=legendBox(T,124,3013,71,27,'tp-legend');legendEntry(lg,134,3026,'#0000ff','Tp','legend-tp');
 const lg2=legendBox(T,1586,3014,90,32,'ratio-legend');legendEntry(lg2,1596,3030,'#ff0000','Te/Tp','legend-te-tp',true);}
</script>
</body></html>
